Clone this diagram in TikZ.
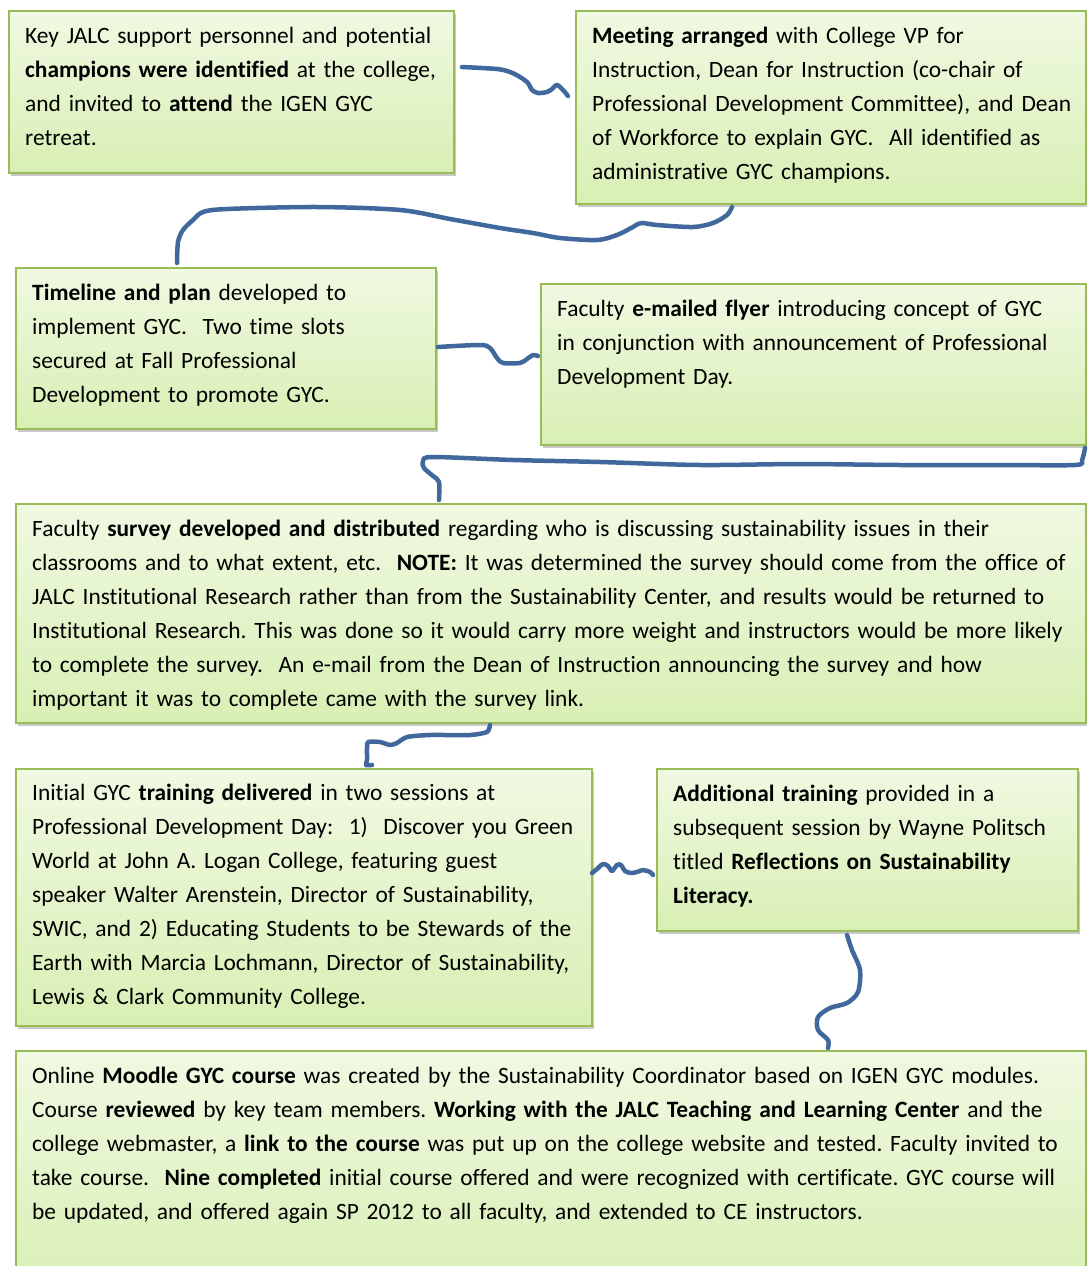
\documentclass[tikz,border=0pt]{standalone}
\usepackage{fontspec}
\setmainfont[Ligatures=NoCommon]{Carlito}
\usetikzlibrary{shadows}
\definecolor{boxtop}{RGB}{240,249,226}
\definecolor{boxbot}{RGB}{216,239,180}
\definecolor{boxedge}{RGB}{155,187,89}
\definecolor{conn}{RGB}{65,104,156}
\tikzset{
  gbox/.style={rectangle, draw=boxedge, line width=2pt, top color=boxtop, bottom color=boxbot,
    anchor=north west, inner sep=0pt,
    drop shadow={shadow xshift=2pt, shadow yshift=-3pt, opacity=0.35, fill=black!60}},
  btext/.style={anchor=base west, inner sep=0pt, text width=1060pt, align=left,
    font=\fontsize{23.4}{34}\selectfont\frenchspacing},
  wire/.style={draw=conn, line width=4.5pt, line cap=round, line join=round}
}
\begin{document}
\begin{tikzpicture}[x=1pt,y=-1pt]
\useasboundingbox (0,0) rectangle (1087,1266);
\clip (0,0) rectangle (1087,1266);
\fill[white] (0,0) rectangle (1087,1266);
% boxes
\node[gbox, minimum width=445pt, minimum height=162pt] (b1) at (8,10) {};
\node[gbox, minimum width=510pt, minimum height=193pt] (b2) at (575,10) {};
\node[gbox, minimum width=420pt, minimum height=161pt] (b3) at (15,267) {};
\node[gbox, minimum width=545pt, minimum height=161pt] (b4) at (540,283) {};
\node[gbox, minimum width=1070pt, minimum height=219pt] (b5) at (15,503) {};
\node[gbox, minimum width=576pt, minimum height=257pt] (b6) at (15,768) {};
\node[gbox, minimum width=421pt, minimum height=162pt] (b7) at (656,768) {};
\node[gbox, minimum width=1070pt, minimum height=240pt] (b8) at (15,1050) {};
% texts
\node[btext] (t1) at (25,43) {Key JALC support personnel and potential\\
\textbf{champions were identified} at the college,\\
and invited to \textbf{attend} the IGEN GYC\\
retreat.};
\node[btext] (t2) at (592,43) {\textbf{Meeting arranged} with College VP for\\
Instruction, Dean for Instruction (co-chair of\\
Professional Development Committee), and Dean\\
of Workforce to explain GYC.\ \ All identified as\\
administrative GYC champions.};
\node[btext] (t3) at (32,300) {\textbf{Timeline and plan} developed to\\
implement GYC.\ \ Two time slots\\
secured at Fall Professional\\
Development to promote GYC.};
\node[btext] (t4) at (557,316) {Faculty \textbf{e-mailed flyer} introducing concept of GYC\\
in conjunction with announcement of Professional\\
Development Day.};
\node[btext] (t5) at (32,536) {Faculty \textbf{survey developed and distributed} regarding who is discussing sustainability issues in their\\
classrooms and to what extent, etc.\ \ \textbf{NOTE:}\ It was determined the survey should come from the office of\\
JALC Institutional Research rather than from the Sustainability Center, and results would be returned to\\
Institutional Research. This was done so it would carry more weight and instructors would be more likely\\
to complete the survey.\ \ An e-mail from the Dean of Instruction announcing the survey and how\\
important it was to complete came with the survey link.};
\node[btext] (t6) at (32,800) {Initial GYC \textbf{training delivered} in two sessions at\\
Professional Development Day:\ \ 1)\ \ Discover you Green\\
World at John A. Logan College, featuring guest\\
speaker Walter Arenstein, Director of Sustainability,\\
SWIC, and 2) Educating Students to be Stewards of the\\
Earth with Marcia Lochmann, Director of Sustainability,\\
Lewis \& Clark Community College.};
\node[btext] (t7) at (673,801) {\textbf{Additional training} provided in a\\
subsequent session by Wayne Politsch\\
titled \textbf{Reflections on Sustainability}\\
\textbf{Literacy.}};
\node[btext] (t8) at (32,1083) {Online \textbf{Moodle GYC course} was created by the Sustainability Coordinator based on IGEN GYC modules.\\
Course \textbf{reviewed} by key team members. \textbf{Working with the JALC Teaching and Learning Center} and the\\
college webmaster, a \textbf{link to the course} was put up on the college website and tested. Faculty invited to\\
take course.\ \ \textbf{Nine completed} initial course offered and were recognized with certificate. GYC course will\\
be updated, and offered again SP 2012 to all faculty, and extended to CE instructors.};
% connectors
\draw[wire] plot[smooth, tension=0.5] coordinates {(462,67) (497,69) (510,72) (520,77) (528,83) (532,90) (538,93) (547,92) (552,89) (557,85) (563,90) (568,96)};
\draw[wire] plot[smooth, tension=0.5] coordinates {(732,207) (727,215) (713,223) (693,227) (657,225) (641,223) (633,227) (617,235) (597,240) (560,238) (533,233) (500,228) (450,219) (400,210) (317,207) (227,209) (203,212) (193,220) (183,230) (178,242) (177,263)};
\draw[wire] plot[smooth, tension=0.5] coordinates {(438,347) (480,345) (490,348) (497,358) (503,363) (520,363) (527,359) (533,355) (538,356)};
\draw[wire] plot[smooth, tension=0.5] coordinates {(439,500) (439,482) (433,476) (424,468) (423,461) (433,457) (513,460) (600,462) (700,465) (800,464) (900,465) (1000,465) (1075,465) (1082,460) (1085,448)};
\draw[wire] plot[smooth, tension=0.4] coordinates {(490,725) (487,732) (470,735) (430,735) (407,737) (397,743) (390,745) (380,742) (368,742) (367,748) (367,760) (366,765) (372,765)};
\draw[wire] plot[smooth, tension=0.5] coordinates {(592,873) (597,869) (603,864) (608,866) (612,871) (617,865) (621,865) (625,871) (631,873) (637,872) (643,870) (650,872) (653,875)};
\draw[wire] plot[smooth, tension=0.5] coordinates {(847,935) (852,950) (860,970) (858,992) (847,1003) (830,1008) (818,1017) (818,1030) (828,1040) (828,1048)};
\end{tikzpicture}
\end{document}
